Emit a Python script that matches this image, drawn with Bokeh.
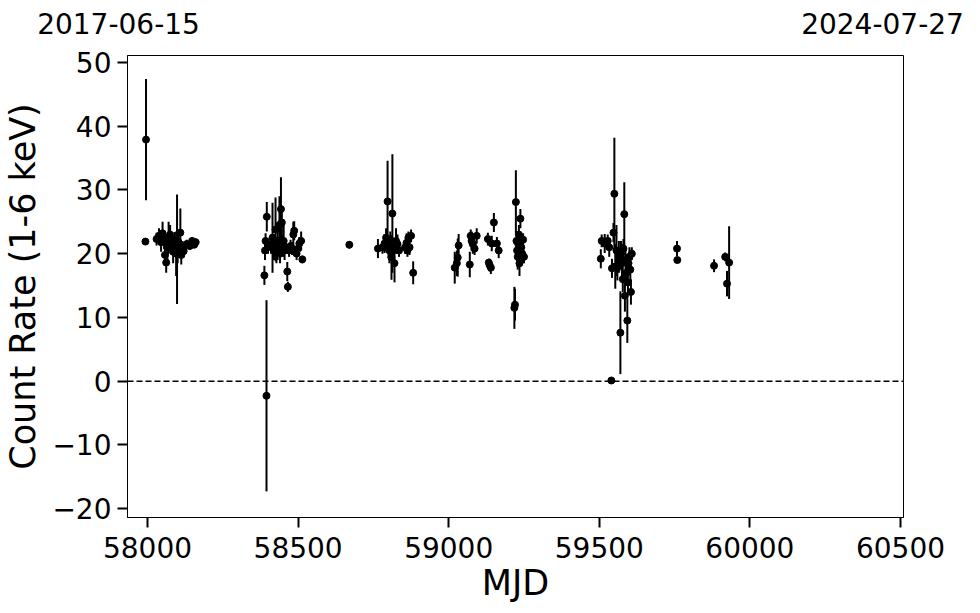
from bokeh.plotting import figure
from bokeh.models import Range1d, FixedTicker, Span
from bokeh.layouts import column
from bokeh.core.properties import value
from bokeh.embed import file_html
from bokeh.resources import INLINE

# ---- data ----
mjd = [57995, 57993,
       58030, 58038, 58045, 58050, 58055, 58058, 58062, 58066, 58070, 58075, 58080, 58085, 58090,
       58095, 58098, 58100, 58103, 58109, 58112, 58116, 58120, 58130, 58140, 58148, 58155, 58160,
       58388, 58390, 58392, 58395, 58396, 58400, 58410, 58415, 58420, 58425, 58428, 58432, 58435,
       58438, 58440, 58443, 58446, 58448, 58452, 58455, 58460, 58464, 58466, 58470, 58475, 58480,
       58484, 58487, 58495, 58500, 58504, 58510, 58514,
       58670,
       58765, 58780, 58787, 58792, 58797, 58800, 58803, 58806, 58810, 58813, 58816, 58820, 58825,
       58830, 58835, 58855, 58860, 58863, 58866, 58870, 58875, 58882,
       59020, 59027, 59030, 59033, 59070, 59073, 59076, 59080, 59086, 59093, 59130, 59133, 59136,
       59140, 59143, 59150, 59160, 59166, 59218, 59220, 59223, 59225, 59227, 59229, 59231, 59233,
       59235, 59238, 59241, 59244, 59247, 59250,
       59505, 59508, 59518, 59528, 59533, 59540, 59542, 59547, 59550, 59553, 59557, 59560, 59565,
       59570, 59572, 59575, 59578, 59580, 59583, 59585, 59587, 59590, 59593, 59595, 59597, 59600,
       59603, 59605, 59608,
       59758, 59759, 59881, 59918, 59924, 59931]
rate = [37.9, 21.9,
        22.3, 22.8, 21.8, 23.2, 22.0, 19.8, 18.6, 21.0, 22.5, 23.0, 21.5, 20.3, 22.2,
        20.0, 20.7, 20.5, 21.8, 23.3, 19.8, 20.8, 20.4, 21.5, 21.2, 22.0, 21.4, 21.8,
        16.6, 20.5, 22.0, -2.3, 25.8, 21.0, 21.5, 22.5, 21.0, 23.8, 20.5, 22.0, 21.0,
        24.5, 20.0, 27.0, 24.9, 21.5, 22.0, 20.5, 21.0, 17.2, 14.8, 20.5, 21.2, 20.8,
        23.0, 23.6, 20.0, 20.8, 21.6, 22.0, 19.1,
        21.4,
        20.8, 21.0, 21.6, 22.5, 28.2, 20.8, 20.5, 22.0, 19.4, 26.3, 21.0, 18.5, 22.0,
        21.5, 20.5, 21.0, 21.7, 20.5, 22.5, 21.0, 22.8, 17.0,
        17.8, 18.5, 19.4, 21.3, 18.3, 22.8, 22.0, 21.5, 20.8, 22.8, 22.3, 18.6, 18.2,
        17.8, 21.6, 24.9, 21.6, 20.5, 11.5, 12.0, 28.1, 22.0, 20.5, 19.5, 21.5, 23.0,
        18.5, 25.5, 21.0, 20.0, 22.2, 19.5,
        19.2, 22.0, 21.6, 22.0, 21.0, 0.1, 17.7, 23.3, 29.4, 18.0, 20.5, 17.8, 19.5,
        7.6, 20.0, 18.5, 16.0, 20.8, 26.2, 13.4, 19.0, 17.0, 9.5, 15.5, 18.5, 19.5,
        17.5, 14.0, 20.0,
        20.8, 19.0, 18.1, 19.5, 15.3, 18.6]
err = [9.5, 0.5,
       1.0, 1.2, 1.5, 1.8, 1.3, 1.5, 1.6, 2.0, 2.5, 1.5, 1.5, 1.8, 1.2,
       3.5, 8.6, 2.0, 1.5, 3.8, 1.5, 1.2, 1.0, 0.7, 0.6, 0.6, 0.5, 0.6,
       1.5, 1.5, 1.2, 15.0, 2.3, 1.0, 1.5, 5.5, 2.0, 5.0, 2.0, 3.0, 1.5,
       4.5, 1.5, 5.0, 2.5, 1.5, 2.5, 1.5, 1.0, 1.5, 0.8, 1.0, 1.0, 1.0,
       2.0, 1.5, 1.0, 1.0, 1.0, 1.5, 0.6,
       0.6,
       1.5, 1.0, 1.5, 1.5, 6.4, 1.5, 2.0, 1.5, 3.5, 9.3, 1.5, 3.0, 2.0,
       1.5, 1.0, 1.0, 1.5, 1.0, 1.0, 1.2, 1.0, 1.8,
       2.5, 2.0, 3.0, 1.8, 2.0, 1.0, 1.5, 1.5, 1.0, 1.2, 1.0, 0.6, 1.0,
       1.0, 1.2, 1.5, 1.0, 1.2, 3.3, 2.5, 5.0, 1.5, 2.5, 2.0, 2.0, 1.5,
       2.0, 1.5, 1.5, 1.5, 1.0, 1.0,
       1.5, 1.0, 1.5, 1.0, 1.5, 0.2, 1.5, 1.5, 8.8, 3.5, 4.0, 2.0, 2.5,
       6.5, 2.0, 3.0, 2.0, 1.5, 5.0, 2.5, 2.0, 1.5, 3.5, 2.0, 1.5, 1.5,
       1.5, 2.0, 1.0,
       1.2, 0.4, 1.0, 0.7, 2.0, 5.7]

x_ticks = [58000, 58500, 59000, 59500, 60000, 60500]
y_ticks = [-20, -10, 0, 10, 20, 30, 40, 50]
y_tick_labels = ["\u221220", "\u221210", "0", "10", "20", "30", "40", "50"]
date_labels = ["2017-06-15", "2024-07-27"]

lo = [r - e for r, e in zip(rate, err)]
hi = [r + e for r, e in zip(rate, err)]

FONT = "DejaVu Sans"
W = 964

# ---- header strip with the two date labels ----
hdr = figure(width=W, height=42, output_backend="svg", toolbar_location=None,
             x_range=Range1d(0, W), y_range=Range1d(0, 42),
             x_axis_type=None, y_axis_type=None,
             min_border=0, min_border_left=0, min_border_right=0,
             min_border_top=0, min_border_bottom=0)
hdr.frame_align = False
hdr.outline_line_color = None
hdr.xgrid.visible = False
hdr.ygrid.visible = False
hdr.text(x=[118, 882], y=[19, 19], text=date_labels, text_font=value(FONT),
         text_font_size="28px", text_align="center", text_baseline="alphabetic",
         text_color="black")

# ---- main plot ----
p = figure(width=W, height=563, output_backend="svg", toolbar_location=None,
           x_range=Range1d(57933.5, 60510), y_range=Range1d(-21.4, 51.1),
           min_border_left=120, min_border_right=61, min_border_top=13, min_border_bottom=88)
p.frame_align = False
p.background_fill_color = "white"
p.border_fill_color = "white"
p.outline_line_color = "black"
p.outline_line_width = 1
p.xgrid.visible = False
p.ygrid.visible = False

p.add_layout(Span(location=0, dimension="width", line_color="black",
                  line_dash="6 3", line_width=1.5))

p.segment(x0=mjd, y0=lo, x1=mjd, y1=hi, line_color="black", line_width=2)
p.scatter(mjd, rate, size=7, color="black")

p.xaxis.ticker = FixedTicker(ticks=x_ticks)
p.yaxis.ticker = FixedTicker(ticks=y_ticks)
p.yaxis.major_label_overrides = {t: l for t, l in zip(y_ticks, y_tick_labels)}

for ax in (p.xaxis[0], p.yaxis[0]):
    ax.major_label_text_font = FONT
    ax.major_label_text_font_size = "28px"
    ax.major_label_text_color = "black"
    ax.axis_label_text_font = FONT
    ax.axis_label_text_font_size = "35px"
    ax.axis_label_text_font_style = "normal"
    ax.axis_label_text_color = "black"
    ax.major_tick_in = 0
    ax.major_tick_out = 10
    ax.major_tick_line_width = 2
    ax.major_tick_line_color = "black"
    ax.minor_tick_line_color = None
    ax.axis_line_color = "black"
    ax.axis_line_width = 1

p.xaxis.major_label_standoff = 9
p.yaxis.major_label_standoff = 6
p.xaxis.axis_label = "MJD"
p.yaxis.axis_label = "Count Rate (1-6 keV)"
p.xaxis.axis_label_standoff = 2
p.yaxis.axis_label_standoff = 6

layout = column(hdr, p, spacing=0)
open("out.html", "w").write(file_html(layout, INLINE))
